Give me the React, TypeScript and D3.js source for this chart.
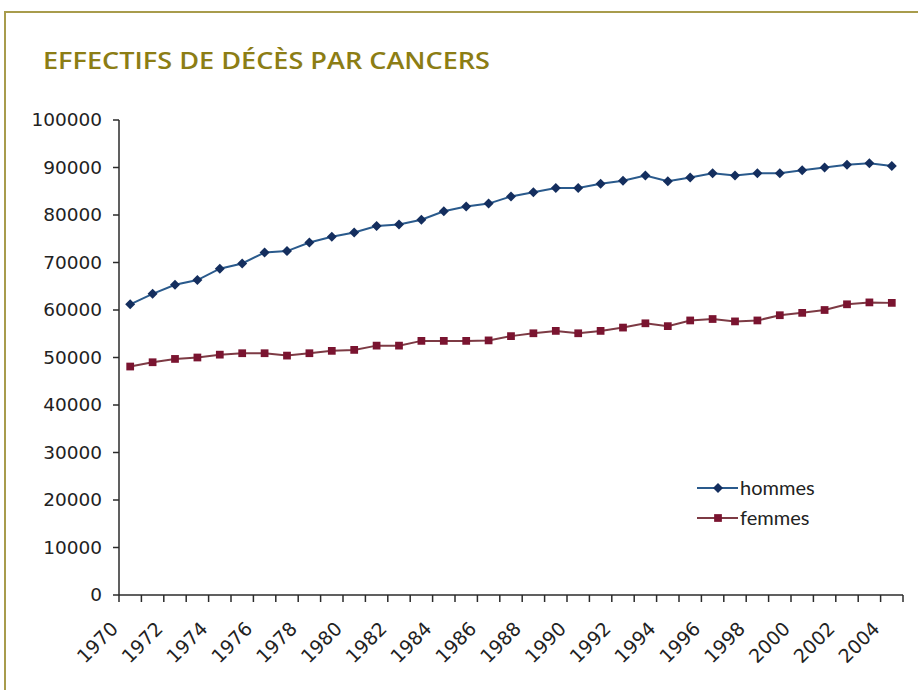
import React from "react";
import * as d3 from "d3";

const years = d3.range(1970, 2005);

const hommes = [
  61200, 63400, 65300, 66300, 68700, 69800, 72100, 72400, 74200, 75400,
  76300, 77700, 78000, 79000, 80800, 81800, 82400, 83900, 84800, 85700,
  85700, 86600, 87200, 88300, 87100, 87900, 88800, 88300, 88800, 88800,
  89400, 90000, 90600, 90900, 90300,
];

const femmes = [
  48100, 49000, 49700, 50000, 50600, 50900, 50900, 50400, 50900, 51400,
  51600, 52500, 52500, 53500, 53500, 53500, 53600, 54500, 55100, 55600,
  55100, 55600, 56300, 57200, 56600, 57800, 58100, 57600, 57800, 58900,
  59400, 60000, 61200, 61600, 61500,
];

const yTicks = d3.range(0, 100001, 10000);
const title = "EFFECTIFS DE DÉCÈS PAR CANCERS";

const W = 918;
const H = 690;

export default function App() {
  const x = d3.scaleBand<number>().domain(years).range([119, 903]).padding(0);
  const y = d3.scaleLinear().domain([0, 100000]).range([595, 120]);
  const cx = (yr: number) => (x(yr) ?? 0) + x.bandwidth() / 2;

  const line = d3
    .line<number>()
    .x((_, i) => cx(years[i]))
    .y((d) => y(d));

  const tickXs = years.map((yr) => x(yr) ?? 0).concat([903]);
  const axisColor = "#2b2b2b";
  const blueLine = "#2a5a8c";
  const blueMark = "#142e5e";
  const redLine = "#7d3a44";
  const redMark = "#7a1430";

  const diamond = d3.symbol().type(d3.symbolDiamond2).size(64)();
  const square = d3.symbol().type(d3.symbolSquare).size(60)();

  return (
    <svg
      width={W}
      height={H}
      style={{ position: "absolute", left: 0, top: 0, background: "#fff" }}
    >
      <rect x={5} y={12} width={W + 20} height={H + 20} fill="none" stroke="#a89c4c" strokeWidth={2} />
      <text
        x={43}
        y={69}
        fill="#8c7d14"
        fontFamily="'Open Sans', Lato, sans-serif"
        fontWeight={600}
        fontSize={24}
        textLength={447}
        lengthAdjust="spacingAndGlyphs"
      >
        {title}
      </text>

      {/* y axis */}
      <line x1={119} x2={119} y1={y(100000)} y2={y(0)} stroke={axisColor} strokeWidth={1.5} />
      {yTicks.map((t) => (
        <g key={t}>
          <line x1={113} x2={119} y1={y(t)} y2={y(t)} stroke={axisColor} strokeWidth={1.5} />
          <text
            x={102}
            y={y(t)}
            dy="0.35em"
            textAnchor="end"
            fontFamily="'DejaVu Sans', Verdana, sans-serif"
            fontSize={18.5}
            fill="#222"
          >
            {t}
          </text>
        </g>
      ))}

      {/* x axis */}
      <line x1={119} x2={903} y1={y(0)} y2={y(0)} stroke={axisColor} strokeWidth={1.5} />
      {tickXs.map((tx, i) => (
        <line key={i} x1={tx} x2={tx} y1={y(0)} y2={y(0) + 7} stroke={axisColor} strokeWidth={1.5} />
      ))}
      {years
        .filter((yr) => (yr - 1970) % 2 === 0)
        .map((yr) => (
          <text
            key={yr}
            transform={`translate(${cx(yr) - 11},${y(0) + 35}) rotate(-45)`}
            textAnchor="end"
            fontFamily="'DejaVu Sans', Verdana, sans-serif"
            fontSize={19}
            fill="#222"
          >
            {yr}
          </text>
        ))}

      {/* series */}
      <path d={line(hommes) ?? ""} fill="none" stroke={blueLine} strokeWidth={2} />
      {hommes.map((v, i) => (
        <path key={i} d={diamond ?? ""} transform={`translate(${cx(years[i])},${y(v)})`} fill={blueMark} />
      ))}
      <path d={line(femmes) ?? ""} fill="none" stroke={redLine} strokeWidth={2} />
      {femmes.map((v, i) => (
        <path key={i} d={square ?? ""} transform={`translate(${cx(years[i])},${y(v)})`} fill={redMark} />
      ))}

      {/* legend */}
      <g fontFamily="Lato, 'Open Sans', sans-serif" fontSize={20} fill="#222">
        <line x1={697} x2={738} y1={488} y2={488} stroke={blueLine} strokeWidth={2} />
        <path d={diamond ?? ""} transform="translate(718,488)" fill={blueMark} />
        <text x={740} y={488} dy="0.35em">hommes</text>
        <line x1={697} x2={738} y1={518} y2={518} stroke={redLine} strokeWidth={2} />
        <path d={square ?? ""} transform="translate(718,518)" fill={redMark} />
        <text x={740} y={518} dy="0.35em">femmes</text>
      </g>
    </svg>
  );
}
